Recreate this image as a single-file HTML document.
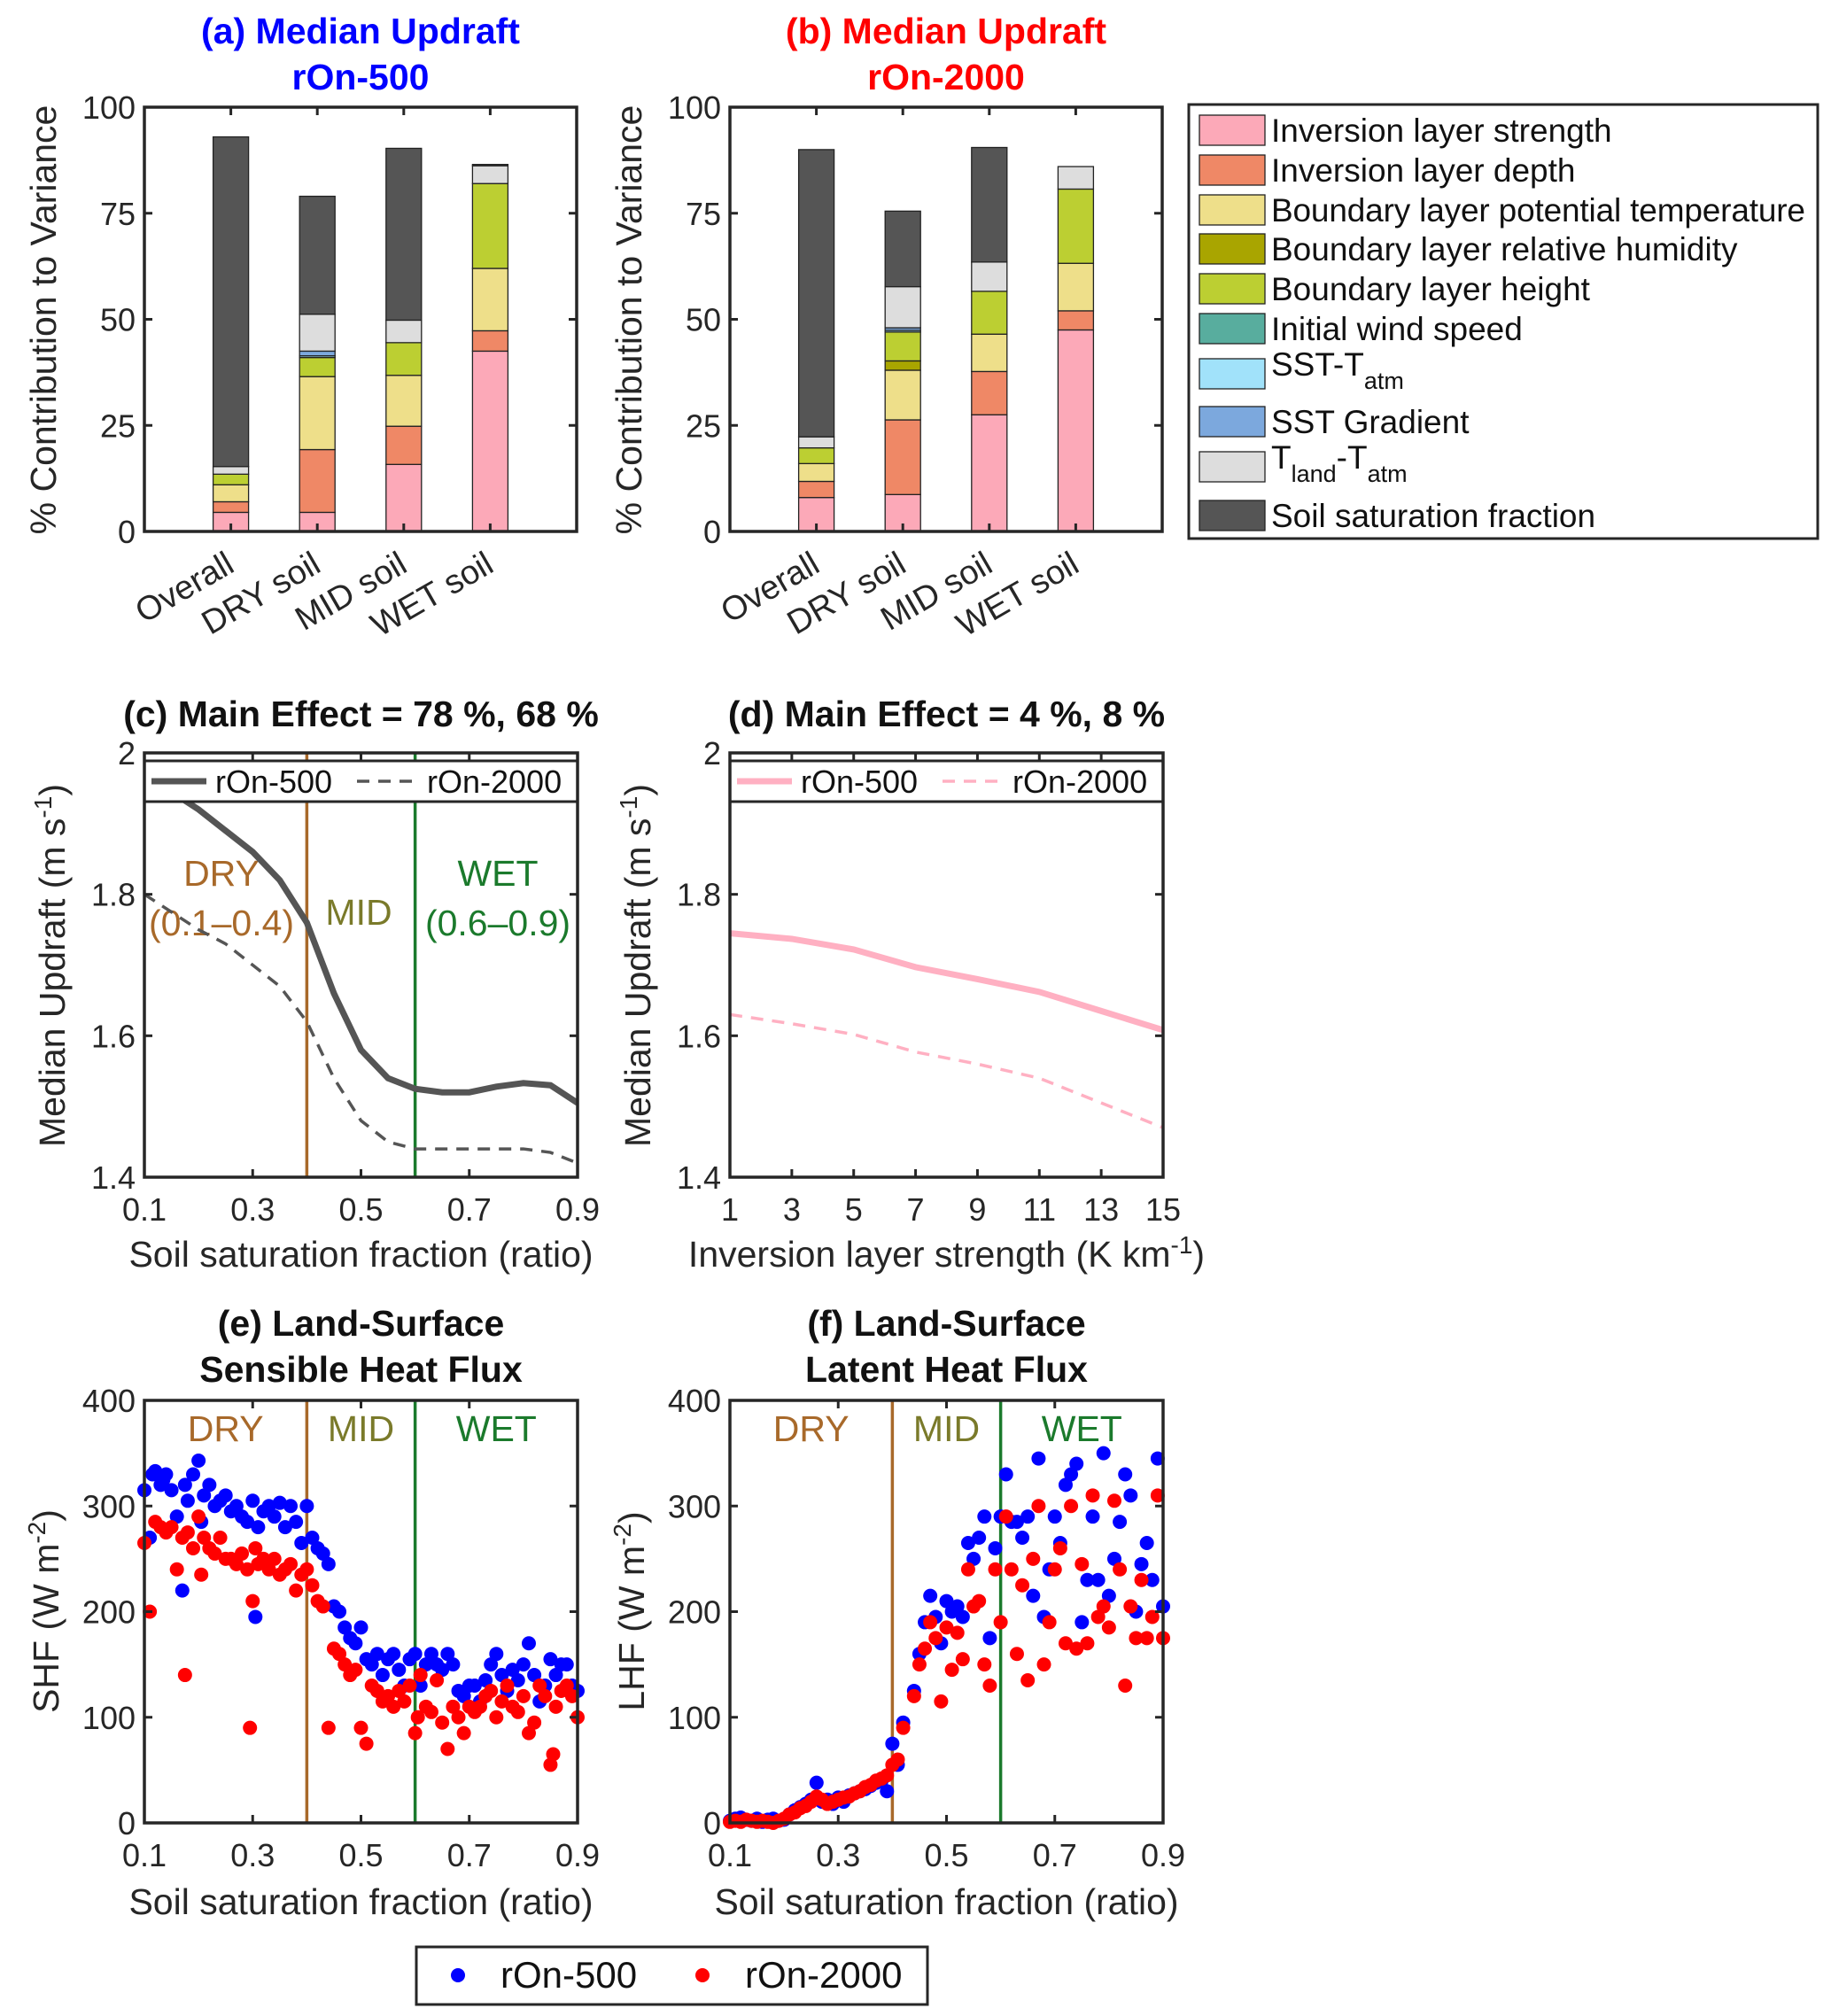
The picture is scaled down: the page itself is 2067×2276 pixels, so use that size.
<!DOCTYPE html>
<html><head><meta charset="utf-8"><style>
html,body{margin:0;padding:0;background:#fff;}
svg{display:block;font-family:"Liberation Sans",Arial,sans-serif;}
</style></head><body>
<svg id="fig" width="2067" height="2276" viewBox="0 0 2067 2276" xmlns="http://www.w3.org/2000/svg"></svg>
<script>
// ---------- DATA ----------
const barCategories = ["Overall","DRY soil","MID soil","WET soil"];
const seriesNames = ["Inversion layer strength","Inversion layer depth","Boundary layer potential temperature","Boundary layer relative humidity","Boundary layer height","Initial wind speed","SST-T_atm","SST Gradient","T_land-T_atm","Soil saturation fraction"];
const seriesColors = ["#FCA9B8","#EF8866","#EEDF8A","#A9A500","#BCCF32","#58AD9E","#A1E2FA","#7CA8DD","#DDDDDD","#555555"];
// contributions (%) per series for panel (a) rOn-500, per category
const a_invStrength = [4.5,4.5,15.8,42.5];
const a_invDepth    = [2.5,14.8,9.0,4.8];
const a_blTheta     = [4.0,17.2,12.0,14.7];
const a_blRH        = [0,0,0,0];
const a_blHeight    = [2.5,4.5,7.7,20.0];
const a_wind        = [0,0,0,0];
const a_sstTatm     = [0,0.4,0,0];
const a_sstGrad     = [0,1.1,0,0];
const a_tland       = [1.8,8.7,5.3,4.2];
const a_soil        = [77.7,27.8,40.5,0.3];
// panel (b) rOn-2000
const b_invStrength = [8.0,8.7,27.5,47.5];
const b_invDepth    = [3.8,17.6,10.2,4.5];
const b_blTheta     = [4.2,11.7,8.8,11.2];
const b_blRH        = [0,2.2,0,0];
const b_blHeight    = [3.7,6.8,10.1,17.5];
const b_wind        = [0,0,0,0];
const b_sstTatm     = [0,0.4,0,0];
const b_sstGrad     = [0,0.6,0,0];
const b_tland       = [2.6,9.7,6.9,5.3];
const b_soil        = [67.7,17.8,27.0,0];
// panel (c)
const c_x      = [0.1,0.15,0.2,0.25,0.3,0.35,0.4,0.45,0.5,0.55,0.6,0.65,0.7,0.75,0.8,0.85,0.9];
const c_r500   = [1.97,1.945,1.92,1.89,1.86,1.82,1.76,1.66,1.58,1.54,1.525,1.52,1.52,1.528,1.533,1.53,1.505];
const c_r2000  = [1.80,1.775,1.75,1.73,1.70,1.67,1.62,1.54,1.48,1.45,1.44,1.44,1.44,1.44,1.44,1.435,1.42];
// panel (d)
const d_x      = [1,3,5,7,9,11,13,15];
const d_r500   = [1.745,1.737,1.722,1.697,1.68,1.662,1.635,1.608];
const d_r2000  = [1.63,1.617,1.602,1.577,1.56,1.54,1.505,1.47];
// panel (e) SHF
const e_blue_x = [0.1,0.11,0.115,0.12,0.13,0.135,0.14,0.15,0.16,0.17,0.175,0.18,0.19,0.2,0.205,0.21,0.22,0.23,0.24,0.25,0.26,0.27,0.28,0.29,0.3,0.305,0.31,0.32,0.33,0.34,0.35,0.36,0.37,0.38,0.39,0.4,0.41,0.42,0.43,0.44,0.45,0.46,0.47,0.48,0.49,0.5,0.51,0.52,0.53,0.54,0.55,0.56,0.57,0.58,0.59,0.6,0.61,0.62,0.63,0.64,0.65,0.66,0.67,0.68,0.69,0.7,0.71,0.72,0.73,0.74,0.75,0.76,0.77,0.78,0.79,0.8,0.81,0.82,0.83,0.84,0.85,0.86,0.87,0.88,0.89,0.9];
const e_blue_y = [315,270,330,333,320,325,330,315,290,220,320,305,330,343,285,310,320,300,305,310,295,300,290,285,305,195,280,295,300,290,303,280,300,285,265,300,270,260,255,245,205,200,185,175,170,185,155,150,160,140,155,160,145,130,155,160,130,150,160,150,145,160,150,125,120,130,130,115,135,150,160,140,125,145,135,150,170,140,115,130,155,140,150,150,130,125];
const e_red_x  = [0.1,0.11,0.12,0.13,0.14,0.15,0.16,0.17,0.175,0.18,0.19,0.2,0.205,0.21,0.22,0.23,0.24,0.25,0.26,0.27,0.28,0.29,0.295,0.3,0.305,0.31,0.32,0.33,0.34,0.35,0.36,0.37,0.38,0.39,0.4,0.41,0.42,0.43,0.44,0.45,0.46,0.47,0.48,0.49,0.5,0.51,0.52,0.53,0.54,0.55,0.56,0.57,0.58,0.59,0.6,0.605,0.61,0.62,0.63,0.64,0.65,0.66,0.67,0.68,0.69,0.7,0.71,0.72,0.73,0.74,0.75,0.76,0.77,0.78,0.79,0.8,0.81,0.82,0.83,0.84,0.85,0.855,0.86,0.87,0.88,0.89,0.9];
const e_red_y  = [265,200,285,280,275,280,240,270,140,275,260,290,235,270,260,255,270,250,250,245,255,240,90,210,260,245,250,240,250,235,240,245,220,235,240,225,210,205,90,165,160,150,140,145,90,75,130,125,115,120,110,125,115,130,85,100,140,110,105,135,95,70,110,100,85,110,105,110,120,125,100,115,130,110,105,120,85,95,130,120,55,65,110,125,130,120,100];
// panel (f) LHF
const f_blue_x = [0.1,0.11,0.12,0.13,0.14,0.15,0.16,0.17,0.18,0.19,0.2,0.21,0.22,0.23,0.24,0.25,0.26,0.27,0.28,0.29,0.3,0.31,0.32,0.33,0.34,0.35,0.36,0.37,0.38,0.39,0.4,0.41,0.42,0.44,0.45,0.46,0.47,0.48,0.49,0.5,0.51,0.52,0.53,0.54,0.55,0.56,0.57,0.58,0.59,0.6,0.61,0.62,0.63,0.64,0.65,0.66,0.67,0.68,0.69,0.7,0.71,0.72,0.73,0.74,0.75,0.76,0.77,0.78,0.79,0.8,0.81,0.82,0.83,0.84,0.85,0.86,0.87,0.88,0.89,0.9];
const f_blue_y = [2,4,5,3,2,4,1,3,4,2,3,8,12,15,18,22,38,20,22,18,24,20,26,28,30,32,35,38,40,30,75,55,95,125,160,190,215,195,170,210,200,205,195,265,250,270,290,175,260,290,330,285,285,270,290,215,345,195,240,290,265,320,330,340,190,230,290,230,350,215,250,285,330,310,200,245,265,230,345,205];
const f_red_x  = [0.1,0.11,0.12,0.13,0.14,0.15,0.16,0.17,0.18,0.19,0.2,0.21,0.22,0.23,0.24,0.25,0.26,0.27,0.28,0.29,0.3,0.31,0.32,0.33,0.34,0.35,0.36,0.37,0.38,0.39,0.4,0.41,0.42,0.44,0.45,0.46,0.47,0.48,0.49,0.5,0.51,0.52,0.53,0.54,0.55,0.56,0.57,0.58,0.59,0.6,0.61,0.62,0.63,0.64,0.65,0.66,0.67,0.68,0.69,0.7,0.71,0.72,0.73,0.74,0.75,0.76,0.77,0.78,0.79,0.8,0.81,0.82,0.83,0.84,0.85,0.86,0.87,0.88,0.89,0.9];
const f_red_y  = [1,2,1,3,2,1,2,1,0,2,4,8,10,14,16,20,25,22,18,20,22,24,25,28,30,34,36,40,42,45,55,60,90,120,150,165,190,175,115,185,145,180,155,240,205,210,150,130,240,190,290,240,160,225,135,250,300,150,190,240,260,170,300,165,245,170,310,195,205,185,305,240,130,205,175,230,175,195,310,175];
const yTicksA = [0,25,50,75,100];
const yTicksC = [1.4,1.6,1.8,2];
const xTicksC = [0.1,0.3,0.5,0.7,0.9];
const xTicksD = [1,3,5,7,9,11,13,15];
const yTicksE = [0,100,200,300,400];

// ---------- HELPERS ----------
const NS="http://www.w3.org/2000/svg";
const svg=document.getElementById('fig');
function mk(tag,attrs,parent,txt){const e=document.createElementNS(NS,tag);for(const k in attrs)e.setAttribute(k,attrs[k]);if(txt!==undefined)e.textContent=txt;(parent||svg).appendChild(e);return e;}
function lin(d0,d1,r0,r1){return v=>r0+(v-d0)/(d1-d0)*(r1-r0);}
const FS=36;

function axesBox(g,x0,x1,y0,y1,xt,yt,sx,sy){
  yt.forEach(v=>{const y=sy(v);
    const t=mk('line',{x1:x0,x2:x0+9,y1:y,y2:y,stroke:'#262626','stroke-width':3},g);
    
    
    const t2=mk('line',{x1:x1,x2:x1-9,y1:y,y2:y,stroke:'#262626','stroke-width':3},g);
    
    
  });
  xt.forEach(v=>{const x=sx(v);
    const t=mk('line',{x1:x,x2:x,y1:y1,y2:y1-9,stroke:'#262626','stroke-width':3},g);
    
    
    const t2=mk('line',{x1:x,x2:x,y1:y0,y2:y0+9,stroke:'#262626','stroke-width':3},g);
    
    
  });
  const r=mk('rect',{x:x0,y:y0,width:x1-x0,height:y1-y0,fill:'none',stroke:'#262626','stroke-width':3.5},g);
  
  
}
function yTickLabels(g,x0,yt,sy,fmt){
  yt.forEach(v=>{const t=mk('text',{x:x0-10,y:sy(v)+13,'text-anchor':'end','font-size':FS,fill:'#262626'},g,fmt?fmt(v):String(v));
    
    });
}
function xTickLabels(g,y1,xt,sx){
  xt.forEach(v=>{const t=mk('text',{x:sx(v),y:y1+49,'text-anchor':'middle','font-size':FS,fill:'#262626'},g,String(v));
    
    });
}
function yLabel(g,x,yc,html,name){
  const t=mk('text',{x:0,y:0,transform:`translate(${x},${yc}) rotate(-90)`,'text-anchor':'middle','font-size':41,fill:'#262626'},g);
  t.innerHTML=html;
  
  
}
function title(g,xc,lines,color,name){
  lines.forEach((s,i)=>{const t=mk('text',{x:xc,y:49+i*52,'text-anchor':'middle','font-size':41,'font-weight':'bold',fill:color},g,s);
    
    });
}

// ---------- BAR PANELS ----------
function barPanel(x0,x1,series,ttl,color,name){
  const g=mk('g',{});
  
  
  const y0=121,y1=600;
  const sx=lin(0,5,x0,x1), sy=lin(0,100,y1,y0);
  const bw=40;
  barCategories.forEach((c,ci)=>{
    let cum=0;
    series.forEach((arr,si)=>{
      const v=arr[ci]; if(v<=0) return;
      const r=mk('rect',{x:sx(ci+1)-bw/2,y:sy(cum+v),width:bw,height:sy(cum)-sy(cum+v),fill:seriesColors[si],stroke:'#222','stroke-width':1.3},g);
      
      
      cum+=v;
    });
    const t=mk('text',{x:0,y:0,transform:`translate(${sx(ci+1)+6},${y1+44}) rotate(-30)`,'text-anchor':'end','font-size':38,fill:'#262626'},g,c);
    
    
  });
  axesBox(g,x0,x1,y0,y1,[1,2,3,4],yTicksA,sx,sy);
  yTickLabels(g,x0,yTicksA,sy);
  yLabel(g,x0-100,y1-239,'% Contribution to Variance','y-axis-title');
  const tg=mk('g',{},g);
  title(tg,(x0+x1)/2,ttl,color,'panel-title');
}
barPanel(163,651,[a_invStrength,a_invDepth,a_blTheta,a_blRH,a_blHeight,a_wind,a_sstTatm,a_sstGrad,a_tland,a_soil],["(a) Median Updraft","rOn-500"],"#0000FF","panel-a");
barPanel(824,1312,[b_invStrength,b_invDepth,b_blTheta,b_blRH,b_blHeight,b_wind,b_sstTatm,b_sstGrad,b_tland,b_soil],["(b) Median Updraft","rOn-2000"],"#FF0000","panel-b");

// legend
(function(){
  const g=mk('g',{});
  
  
  const box=mk('rect',{x:1342,y:118,width:710,height:490,fill:'#fff',stroke:'#262626','stroke-width':3},g);
  
  
  const rows=[147,192,237,281,326,371,422,476,527,582];
  const labels=['Inversion layer strength','Inversion layer depth','Boundary layer potential temperature','Boundary layer relative humidity','Boundary layer height','Initial wind speed','SST-T<tspan baseline-shift="sub" font-size="27">atm</tspan>','SST Gradient','T<tspan baseline-shift="sub" font-size="27">land</tspan>-T<tspan baseline-shift="sub" font-size="27">atm</tspan>','Soil saturation fraction'];
  rows.forEach((y,i)=>{
    const r=mk('rect',{x:1354,y:y-17,width:74,height:34,fill:seriesColors[i],stroke:'#222','stroke-width':1.3},g);
    
    
    const t=mk('text',{x:1435,y:(i==6||i==8)?y+2:y+13,'font-size':37,fill:'#111',textLength:(i==2?603:null)},g);
    if(i!=2) t.removeAttribute('textLength');
    t.innerHTML=labels[i];
    
    
  });
})();

// ---------- LINE PANELS ----------
function linePanel(x0,x1,xd,xt,xs,s1,s2,col1,col2,ttl,xlab,regions,name){
  const g=mk('g',{});
  
  
  const y0=850,y1=1329;
  const sx=lin(xd[0],xd[1],x0,x1), sy=lin(1.4,2,y1,y0);
  const cp=mk('clipPath',{id:name+'-clip'},g);
  mk('rect',{x:x0,y:y0,width:x1-x0,height:y1-y0},cp);
  if(regions){
    [[0.4,'#A8692A'],[0.6,'#1B7A2C']].forEach(([v,c])=>{
      const l=mk('line',{x1:sx(v),x2:sx(v),y1:y0,y2:y1,stroke:c,'stroke-width':3.5},g);
      
      
    });
    [['DRY',250,1000,'#A8692A'],['(0.1–0.4)',250,1056,'#A8692A'],['MID',405,1044,'#7A7A2A'],['WET',562,1000,'#1B7A2C'],['(0.6–0.9)',562,1056,'#1B7A2C']].forEach(([s,x,y,c])=>{
      const t=mk('text',{x:x,y:y,'text-anchor':'middle','font-size':41,fill:c},g,s);
      
      
    });
  }
  const p1=mk('polyline',{points:xs.map((v,i)=>sx(v)+','+sy(s1[i])).join(' '),fill:'none',stroke:col1,'stroke-width':7,'clip-path':`url(#${name}-clip)`},g);
  
  
  const p2=mk('polyline',{points:xs.map((v,i)=>sx(v)+','+sy(s2[i])).join(' '),fill:'none',stroke:col2,'stroke-width':3.5,'stroke-dasharray':'14 10','clip-path':`url(#${name}-clip)`},g);
  
  
  // legend
  const lb=mk('rect',{x:x0,y:859,width:x1-x0,height:46,fill:'#fff',stroke:'#262626','stroke-width':3},g);
  
  
  const l1=mk('line',{x1:x0+8,x2:x0+70,y1:882,y2:882,stroke:col1,'stroke-width':7},g);
  
  
  const t1=mk('text',{x:x0+80,y:895,'font-size':FS,fill:'#111'},g,'rOn-500');
  
  
  const l2=mk('line',{x1:x0+240,x2:x0+306,y1:882,y2:882,stroke:col2,'stroke-width':3.5,'stroke-dasharray':'14 10'},g);
  
  
  const t2=mk('text',{x:x0+319,y:895,'font-size':FS,fill:'#111'},g,'rOn-2000');
  
  
  axesBox(g,x0,x1,y0,y1,xt,yTicksC,sx,sy);
  yTickLabels(g,x0,yTicksC,sy,v=>v==2?'2':v.toFixed(1));
  xTickLabels(g,y1,xt,sx);
  yLabel(g,x0-90,1090,'Median Updraft (m s<tspan baseline-shift="super" font-size="28">-1</tspan>)','y-axis-title');
  const xl=mk('text',{x:(x0+x1)/2,y:1430,'text-anchor':'middle','font-size':41,fill:'#262626'},g);
  xl.innerHTML=xlab;
  
  
  const tt=mk('text',{x:(x0+x1)/2,y:820,'text-anchor':'middle','font-size':41,'font-weight':'bold',fill:'#111'},g,ttl);
  
  
}
linePanel(163,652,[0.1,0.9],xTicksC,c_x,c_r500,c_r2000,'#555555','#555555','(c) Main Effect = 78 %, 68 %','Soil saturation fraction (ratio)',true,'panel-c');
linePanel(824,1313,[1,15],xTicksD,d_x,d_r500,d_r2000,'#FFB0C2','#FFB0C2','(d) Main Effect = 4 %, 8 %','Inversion layer strength (K km<tspan baseline-shift="super" font-size="28">-1</tspan>)',false,'panel-d');

// ---------- SCATTER PANELS ----------
function scatterPanel(x0,x1,bx,by,rx,ry,ttl,ylab,name){
  const g=mk('g',{});
  
  
  const y0=1581,y1=2058;
  const sx=lin(0.1,0.9,x0,x1), sy=lin(0,400,y1,y0);
  [[0.4,'#A8692A'],[0.6,'#1B7A2C']].forEach(([v,c])=>{
    const l=mk('line',{x1:sx(v),x2:sx(v),y1:y0,y2:y1,stroke:c,'stroke-width':3.5},g);
    
    
  });
  [['DRY',0.25,'#A8692A'],['MID',0.5,'#7A7A2A'],['WET',0.75,'#1B7A2C']].forEach(([s,v,c])=>{
    const t=mk('text',{x:sx(v),y:1627,'text-anchor':'middle','font-size':41,fill:c},g,s);
    
    
  });
  bx.forEach((v,i)=>{const c=mk('circle',{cx:sx(v),cy:sy(by[i]),r:8,fill:'#0000FF'},g);
    
    });
  rx.forEach((v,i)=>{const c=mk('circle',{cx:sx(v),cy:sy(ry[i]),r:8,fill:'#FF0000'},g);
    
    });
  axesBox(g,x0,x1,y0,y1,xTicksC,yTicksE,sx,sy);
  yTickLabels(g,x0,yTicksE,sy);
  xTickLabels(g,y1,xTicksC,sx);
  yLabel(g,x0-97,1819,ylab+' (W m<tspan baseline-shift="super" font-size="28">-2</tspan>)','y-axis-title');
  const xl=mk('text',{x:(x0+x1)/2,y:2161,'text-anchor':'middle','font-size':41,fill:'#262626'},g,'Soil saturation fraction (ratio)');
  
  
  ttl.forEach((s,i)=>{const t=mk('text',{x:(x0+x1)/2,y:1508+i*52,'text-anchor':'middle','font-size':41,'font-weight':'bold',fill:'#111'},g,s);
    
    });
}
scatterPanel(163,652,e_blue_x,e_blue_y,e_red_x,e_red_y,['(e) Land-Surface','Sensible Heat Flux'],'SHF','panel-e');
scatterPanel(824,1313,f_blue_x,f_blue_y,f_red_x,f_red_y,['(f) Land-Surface','Latent Heat Flux'],'LHF','panel-f');

// bottom legend
(function(){
  const g=mk('g',{});
  
  
  const b=mk('rect',{x:470,y:2198,width:577,height:65,fill:'#fff',stroke:'#262626','stroke-width':3},g);
  
  
  const c1=mk('circle',{cx:517,cy:2230,r:8,fill:'#0000FF'},g);
  
  
  const t1=mk('text',{x:565,y:2244,'font-size':42,fill:'#111'},g,'rOn-500');
  
  
  const c2=mk('circle',{cx:793,cy:2230,r:8,fill:'#FF0000'},g);
  
  
  const t2=mk('text',{x:841,y:2244,'font-size':42,fill:'#111'},g,'rOn-2000');
  
  
})();
</script>
</body></html>
